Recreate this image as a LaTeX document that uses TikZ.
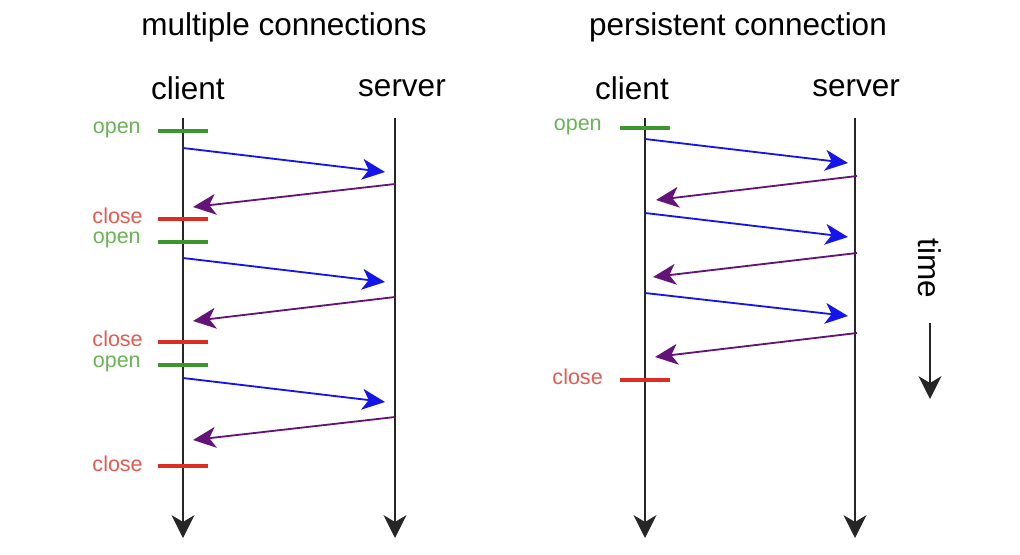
\documentclass[tikz,border=0pt]{standalone}
\usepackage{fontspec}
\setmainfont{Liberation Sans}
\usetikzlibrary{arrows.meta}
\definecolor{opengreen}{RGB}{60,150,45}
\definecolor{openlbl}{RGB}{105,180,85}
\definecolor{closered}{RGB}{220,45,35}
\definecolor{closelbl}{RGB}{228,90,80}
\definecolor{reqblue}{RGB}{20,20,235}
\definecolor{resppurple}{RGB}{100,20,120}
\begin{document}
\begin{tikzpicture}[
  x=0.025cm, y=-0.025cm,
  every node/.style = {inner sep=0pt},
  title/.style = {font=\fontsize{22.4}{26}\selectfont},
  lbl/.style   = {font=\fontsize{15.3}{18}\selectfont, anchor=east},
  lifeline/.style = {-{Stealth[length=0.57cm, width=0.57cm, inset=0.17cm]},
                     line width=1.6pt, black!85},
  openbar/.style  = {opengreen, line width=2.8pt},
  closebar/.style = {closered, line width=2.8pt},
  req/.style  = {-{Stealth[length=0.57cm, width=0.52cm, inset=0.16cm]},
                 reqblue, line width=1.3pt},
  resp/.style = {-{Stealth[length=0.57cm, width=0.52cm, inset=0.16cm]},
                 resppurple, line width=1.3pt},
]
\useasboundingbox (0,0) rectangle (1020,554);

% --- Multiple connections ----------------------------------------------
\node[title] (mtitle) at (284,27) {multiple connections};
\node[title] (mclient) at (188,88) {client};
\node[title] (mserver) at (402,88) {server};

\coordinate (mctop) at (183,118);
\coordinate (mcbot) at (183,538);
\coordinate (mstop) at (395,118);
\coordinate (msbot) at (395,538);
\draw[lifeline] (mctop) -- (mcbot);
\draw[lifeline] (mstop) -- (msbot);

% first connection
\coordinate (mo1a) at (158,131); \coordinate (mo1b) at (208,131);
\draw[openbar] (mo1a) -- (mo1b);
\node[lbl, text=openlbl] (mopen1) at (141,130) {open};
\coordinate (mq1a) at (183,148); \coordinate (mq1b) at (385,172);
\draw[req] (mq1a) -- (mq1b);
\coordinate (mr1a) at (395,184); \coordinate (mr1b) at (193,207);
\draw[resp] (mr1a) -- (mr1b);
\coordinate (mc1a) at (158,219); \coordinate (mc1b) at (208,219);
\draw[closebar] (mc1a) -- (mc1b);
\node[lbl, text=closelbl] (mclose1) at (143,216) {close};

% second connection
\coordinate (mo2a) at (158,242); \coordinate (mo2b) at (208,242);
\draw[openbar] (mo2a) -- (mo2b);
\node[lbl, text=openlbl] (mopen2) at (141,240) {open};
\coordinate (mq2a) at (183,258); \coordinate (mq2b) at (385,282);
\draw[req] (mq2a) -- (mq2b);
\coordinate (mr2a) at (395,297); \coordinate (mr2b) at (193,321);
\draw[resp] (mr2a) -- (mr2b);
\coordinate (mc2a) at (158,342); \coordinate (mc2b) at (208,342);
\draw[closebar] (mc2a) -- (mc2b);
\node[lbl, text=closelbl] (mclose2) at (143,339) {close};

% third connection
\coordinate (mo3a) at (158,365); \coordinate (mo3b) at (208,365);
\draw[openbar] (mo3a) -- (mo3b);
\node[lbl, text=openlbl] (mopen3) at (141,364) {open};
\coordinate (mq3a) at (183,378); \coordinate (mq3b) at (385,402);
\draw[req] (mq3a) -- (mq3b);
\coordinate (mr3a) at (395,417); \coordinate (mr3b) at (193,440);
\draw[resp] (mr3a) -- (mr3b);
\coordinate (mc3a) at (158,466); \coordinate (mc3b) at (208,466);
\draw[closebar] (mc3a) -- (mc3b);
\node[lbl, text=closelbl] (mclose3) at (143,464) {close};

% --- Persistent connection ---------------------------------------------
\node[title] (ptitle) at (738,27) {persistent connection};
\node[title] (pclient) at (632,88) {client};
\node[title] (pserver) at (856,88) {server};

\coordinate (pctop) at (645,118);
\coordinate (pcbot) at (645,538);
\coordinate (pstop) at (855,118);
\coordinate (psbot) at (855,538);
\draw[lifeline] (pctop) -- (pcbot);
\draw[lifeline] (pstop) -- (psbot);

\coordinate (poa) at (620,128); \coordinate (pob) at (670,128);
\draw[openbar] (poa) -- (pob);
\node[lbl, text=openlbl] (popen) at (602,127) {open};

\coordinate (pq1a) at (645,139); \coordinate (pq1b) at (848,163);
\draw[req] (pq1a) -- (pq1b);
\coordinate (pr1a) at (857,176); \coordinate (pr1b) at (656,200);
\draw[resp] (pr1a) -- (pr1b);
\coordinate (pq2a) at (645,213); \coordinate (pq2b) at (848,237);
\draw[req] (pq2a) -- (pq2b);
\coordinate (pr2a) at (857,253); \coordinate (pr2b) at (653,277);
\draw[resp] (pr2a) -- (pr2b);
\coordinate (pq3a) at (645,293); \coordinate (pq3b) at (848,316);
\draw[req] (pq3a) -- (pq3b);
\coordinate (pr3a) at (857,333); \coordinate (pr3b) at (655,357);
\draw[resp] (pr3a) -- (pr3b);

\coordinate (pca) at (620,380); \coordinate (pcb) at (670,380);
\draw[closebar] (pca) -- (pcb);
\node[lbl, text=closelbl] (pclose) at (603,377) {close};

% --- Time axis ---------------------------------------------------------
\node[title, rotate=-90] (time) at (930,268) {time};
\coordinate (ttop) at (930,323);
\coordinate (tbot) at (930,399);
\draw[lifeline] (ttop) -- (tbot);

\end{tikzpicture}
\end{document}
